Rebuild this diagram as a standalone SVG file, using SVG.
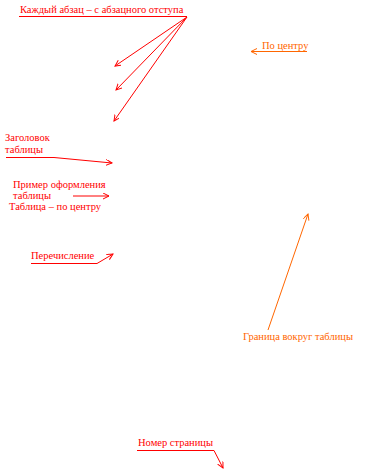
<svg xmlns="http://www.w3.org/2000/svg" width="365" height="470" viewBox="0 0 365 470">
<defs>
<style>
.t{font-family:"Liberation Serif","Times New Roman",serif;font-size:10.5px}
.r{fill:#ff0000}
.o{fill:#ff6600}
.lr{stroke:#ff0000;stroke-width:1;fill:none}
.lo{stroke:#ff6600;stroke-width:1;fill:none}
</style>
<marker id="ar" markerWidth="8" markerHeight="8" refX="6" refY="3" orient="auto" markerUnits="userSpaceOnUse">
<path d="M0,0 L6,3 L0,6" fill="none" stroke="#ff0000" stroke-width="1"/>
</marker>
<marker id="ao" markerWidth="8" markerHeight="8" refX="6" refY="3" orient="auto" markerUnits="userSpaceOnUse">
<path d="M0,0 L6,3 L0,6" fill="none" stroke="#ff6600" stroke-width="1"/>
</marker>
</defs>
<rect width="365" height="470" fill="#ffffff"/>
<g id="connectors">
<line class="lr" x1="19" y1="16.5" x2="187" y2="16.5"/>
<line class="lr" x1="187" y1="17" x2="115" y2="66" marker-end="url(#ar)"/>
<line class="lr" x1="187" y1="17" x2="116" y2="90" marker-end="url(#ar)"/>
<line class="lr" x1="187" y1="17" x2="114" y2="121" marker-end="url(#ar)"/>
<line class="lo" x1="307" y1="51.5" x2="251" y2="51.5" marker-end="url(#ao)"/>
<polyline class="lr" points="6,157.5 54,157.5 112,163" marker-end="url(#ar)"/>
<line class="lr" x1="73" y1="196" x2="109" y2="196" marker-end="url(#ar)"/>
<polyline class="lr" points="31,263.5 97,263.5 113,254" marker-end="url(#ar)"/>
<line class="lo" x1="268" y1="330" x2="308" y2="214" marker-end="url(#ao)"/>
<polyline class="lr" points="137,450.5 214,450.5 223,468" marker-end="url(#ar)"/>
</g>
<g id="n-abzac"><text class="t r" x="20" y="13">Каждый абзац – с абзацного отступа</text></g>
<g id="n-center"><text class="t o" x="262" y="49">По центру</text></g>
<g id="n-header"><text class="t r" x="5" y="141">Заголовок</text><text class="t r" x="5" y="153">таблицы</text></g>
<g id="n-example"><text class="t r" x="13" y="188">Пример оформления</text><text class="t r" x="13" y="199">таблицы</text></g>
<g id="n-tablecenter"><text class="t r" x="9" y="210">Таблица – по центру</text></g>
<g id="n-list"><text class="t r" x="31" y="259">Перечисление</text></g>
<g id="n-border"><text class="t o" x="243" y="340">Граница вокруг таблицы</text></g>
<g id="n-page"><text class="t r" x="138" y="446">Номер страницы</text></g>
</svg>
